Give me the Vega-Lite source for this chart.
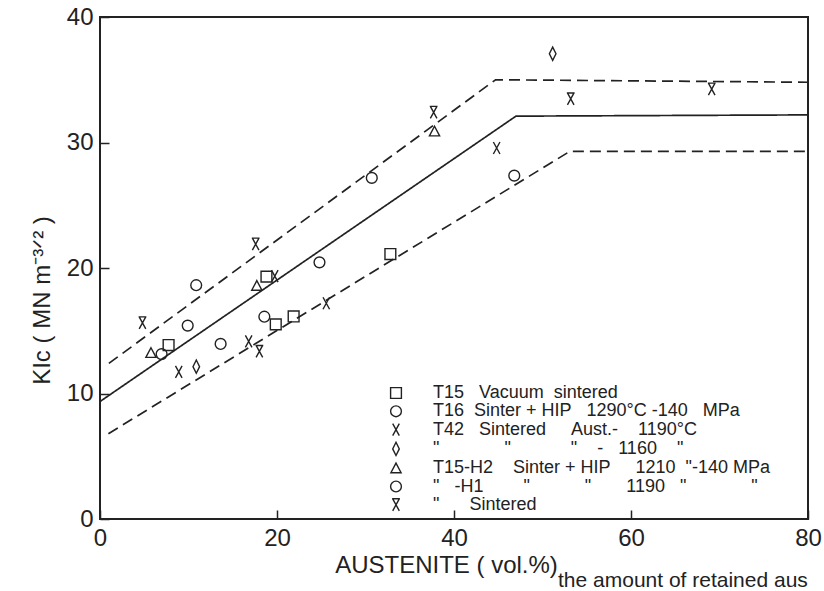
{
  "$schema": "https://vega.github.io/schema/vega-lite/v6.json",
  "width": 708,
  "height": 502,
  "autosize": {"type": "none"},
  "padding": {"left": 100, "top": 17, "right": 16, "bottom": 72},
  "background": "white",
  "config": {
    "view": {"stroke": "#222", "strokeWidth": 2},
    "font": "Liberation Sans",
    "axis": {
      "grid": false,
      "domain": false,
      "tickColor": "#222",
      "tickWidth": 1.5,
      "tickSize": -9,
      "labelColor": "#222",
      "labelFont": "Liberation Sans",
      "labelFontSize": 24,
      "titleFont": "Liberation Sans",
      "titleFontSize": 24,
      "titleFontWeight": "normal",
      "titleColor": "#222"
    }
  },
  "title": {
    "text": "the amount of retained aus",
    "orient": "bottom",
    "anchor": "start",
    "frame": "group",
    "dx": 458,
    "offset": -7,
    "fontSize": 21,
    "fontWeight": "normal",
    "font": "Liberation Sans",
    "color": "#222"
  },
  "datasets": {
    "pts": [
      {"s": "T15 Vacuum", "x": 7.75, "y": 13.86},
      {"s": "T15 Vacuum", "x": 19.86, "y": 15.51},
      {"s": "T15 Vacuum", "x": 21.88, "y": 16.14},
      {"s": "T15 Vacuum", "x": 32.81, "y": 21.11},
      {"s": "T15 Vacuum", "x": 18.81, "y": 19.31},
      {"s": "T16 HIP", "x": 10.87, "y": 18.63},
      {"s": "T16 HIP", "x": 9.91, "y": 15.41},
      {"s": "T16 HIP", "x": 6.96, "y": 13.14},
      {"s": "T16 HIP", "x": 13.63, "y": 13.95},
      {"s": "T16 HIP", "x": 18.57, "y": 16.12},
      {"s": "T16 HIP", "x": 24.8, "y": 20.45},
      {"s": "T16 HIP", "x": 30.71, "y": 27.18},
      {"s": "T42 1190", "x": 19.75, "y": 19.35},
      {"s": "T42 1190", "x": 25.57, "y": 17.19},
      {"s": "T42 1190", "x": 16.8, "y": 14.16},
      {"s": "T42 1190", "x": 8.9, "y": 11.73},
      {"s": "T42 1190", "x": 44.82, "y": 29.56},
      {"s": "T42 1160", "x": 10.88, "y": 12.14},
      {"s": "T42 1160", "x": 51.15, "y": 37.07},
      {"s": "T15-H2 HIP", "x": 5.76, "y": 13.24},
      {"s": "T15-H2 HIP", "x": 17.72, "y": 18.59},
      {"s": "T15-H2 HIP", "x": 37.8, "y": 30.89},
      {"s": "T15-H1 HIP", "x": 46.81, "y": 27.36},
      {"s": "T15 Sintered", "x": 17.59, "y": 21.9},
      {"s": "T15 Sintered", "x": 4.8, "y": 15.63},
      {"s": "T15 Sintered", "x": 18.01, "y": 13.35},
      {"s": "T15 Sintered", "x": 37.7, "y": 32.4},
      {"s": "T15 Sintered", "x": 53.19, "y": 33.47},
      {"s": "T15 Sintered", "x": 69.12, "y": 34.25}
    ],
    "lines": [
      {"line": "fit", "x": 0, "y": 9.36},
      {"line": "fit", "x": 47.0, "y": 32.1},
      {"line": "fit", "x": 80, "y": 32.2},
      {"line": "upper", "x": 1.0, "y": 12.4},
      {"line": "upper", "x": 44.7, "y": 35.0},
      {"line": "upper", "x": 80, "y": 34.8},
      {"line": "lower", "x": 0.95, "y": 6.8},
      {"line": "lower", "x": 53.1, "y": 29.3},
      {"line": "lower", "x": 80, "y": 29.3}
    ]
  },
  "layer": [
    {
      "data": {"name": "lines"},
      "mark": {"type": "line", "color": "#222", "strokeWidth": 1.7},
      "encoding": {
        "x": {"field": "x", "type": "quantitative", "scale": {"domain": [0, 80], "nice": false, "zero": false},
          "axis": {"values": [0, 20, 40, 60, 80], "title": "AUSTENITE ( vol.%)", "labelPadding": 16, "titlePadding": 3, "titleX": 346, "labelFlush": false}},
        "y": {"field": "y", "type": "quantitative", "scale": {"domain": [0, 40], "nice": false, "zero": false},
          "axis": {"values": [0, 10, 20, 30, 40], "title": "KIc ( MN m⁻³ᐟ² )", "labelPadding": 16, "titleX": -58, "titleY": 283, "titleBaseline": "middle", "titleAngle": -90}},
        "detail": {"field": "line"},
        "strokeDash": {"field": "line", "type": "nominal", "scale": {"domain": ["fit", "upper", "lower"], "range": [[1, 0], [11, 6], [11, 6]]}, "legend": null}
      }
    },
    {
      "data": {"name": "pts"},
      "mark": {"type": "point", "filled": false, "stroke": "#222", "strokeWidth": 1.4, "size": 144, "opacity": 1},
      "encoding": {
        "x": {"field": "x", "type": "quantitative"},
        "y": {"field": "y", "type": "quantitative"},
        "shape": {
          "field": "s",
          "type": "nominal",
          "scale": {
            "domain": ["T15 Vacuum", "T16 HIP", "T42 1190", "T42 1160", "T15-H2 HIP", "T15-H1 HIP", "T15 Sintered"],
            "range": [
              "M-0.9,-0.9H0.9V0.9H-0.9Z",
              "M0.9,0A0.9,0.9,0,1,1,-0.9,0A0.9,0.9,0,1,1,0.9,0Z",
              "M-0.55,-1L0.55,1M0.55,-1L-0.55,1",
              "M0,-1.1L0.55,0L0,1.1L-0.55,0Z",
              "M0,-0.85L0.85,0.75L-0.85,0.75Z",
              "M0.9,0A0.9,0.9,0,1,1,-0.9,0A0.9,0.9,0,1,1,0.9,0Z",
              "M-0.65,-1H0.65M-0.55,-1L0.55,1M0.55,-1L-0.55,1"
            ]
          },
          "legend": {
            "orient": "none",
            "legendX": 287,
            "legendY": 367,
            "title": null,
            "padding": 0,
            "rowPadding": 0.3,
            "symbolSize": 144,
            "symbolStrokeColor": "#222",
            "symbolStrokeWidth": 1.4,
            "symbolFillColor": "transparent",
            "labelFontSize": 18,
            "labelFont": "Liberation Sans",
            "labelColor": "#222",
            "labelOffset": 28,
            "labelLimit": 0,
            "labelExpr": "({'T15 Vacuum': 'T15\u00a0\u00a0\u00a0Vacuum\u00a0\u00a0sintered', 'T16 HIP': 'T16\u00a0\u00a0Sinter + HIP\u00a0\u00a0\u00a01290°C\u00a0-140\u00a0\u00a0\u00a0MPa', 'T42 1190': 'T42\u00a0\u00a0\u00a0Sintered\u00a0\u00a0\u00a0\u00a0\u00a0Aust.-\u00a0\u00a0\u00a0\u00a01190°C', 'T42 1160': '\u00a0\u00a0\u00a0\u00a0\"\u00a0\u00a0\u00a0\u00a0\u00a0\u00a0\u00a0\u00a0\u00a0\u00a0\u00a0\u00a0\u00a0\"\u00a0\u00a0\u00a0\u00a0\u00a0\u00a0\u00a0\u00a0\u00a0\u00a0\u00a0\u00a0\"\u00a0\u00a0\u00a0\u00a0-\u00a0\u00a0\u00a01160\u00a0\u00a0\u00a0\u00a0\"', 'T15-H2 HIP': '\u00a0T15-H2\u00a0\u00a0\u00a0\u00a0Sinter + HIP\u00a0\u00a0\u00a0\u00a0\u00a01210\u00a0\u00a0\"-140 MPa', 'T15-H1 HIP': '\u00a0\u00a0\u00a0\"\u00a0\u00a0\u00a0-H1\u00a0\u00a0\u00a0\u00a0\u00a0\u00a0\u00a0\u00a0\"\u00a0\u00a0\u00a0\u00a0\u00a0\u00a0\u00a0\u00a0\u00a0\u00a0\u00a0\"\u00a0\u00a0\u00a0\u00a0\u00a0\u00a0\u00a01190\u00a0\u00a0\u00a0\"\u00a0\u00a0\u00a0\u00a0\u00a0\u00a0\u00a0\u00a0\u00a0\u00a0\u00a0\u00a0\u00a0\"', 'T15 Sintered': '\u00a0\u00a0\u00a0\"\u00a0\u00a0\u00a0\u00a0\u00a0\u00a0Sintered'})[datum.label]"
          }
        }
      }
    }
  ]
}
